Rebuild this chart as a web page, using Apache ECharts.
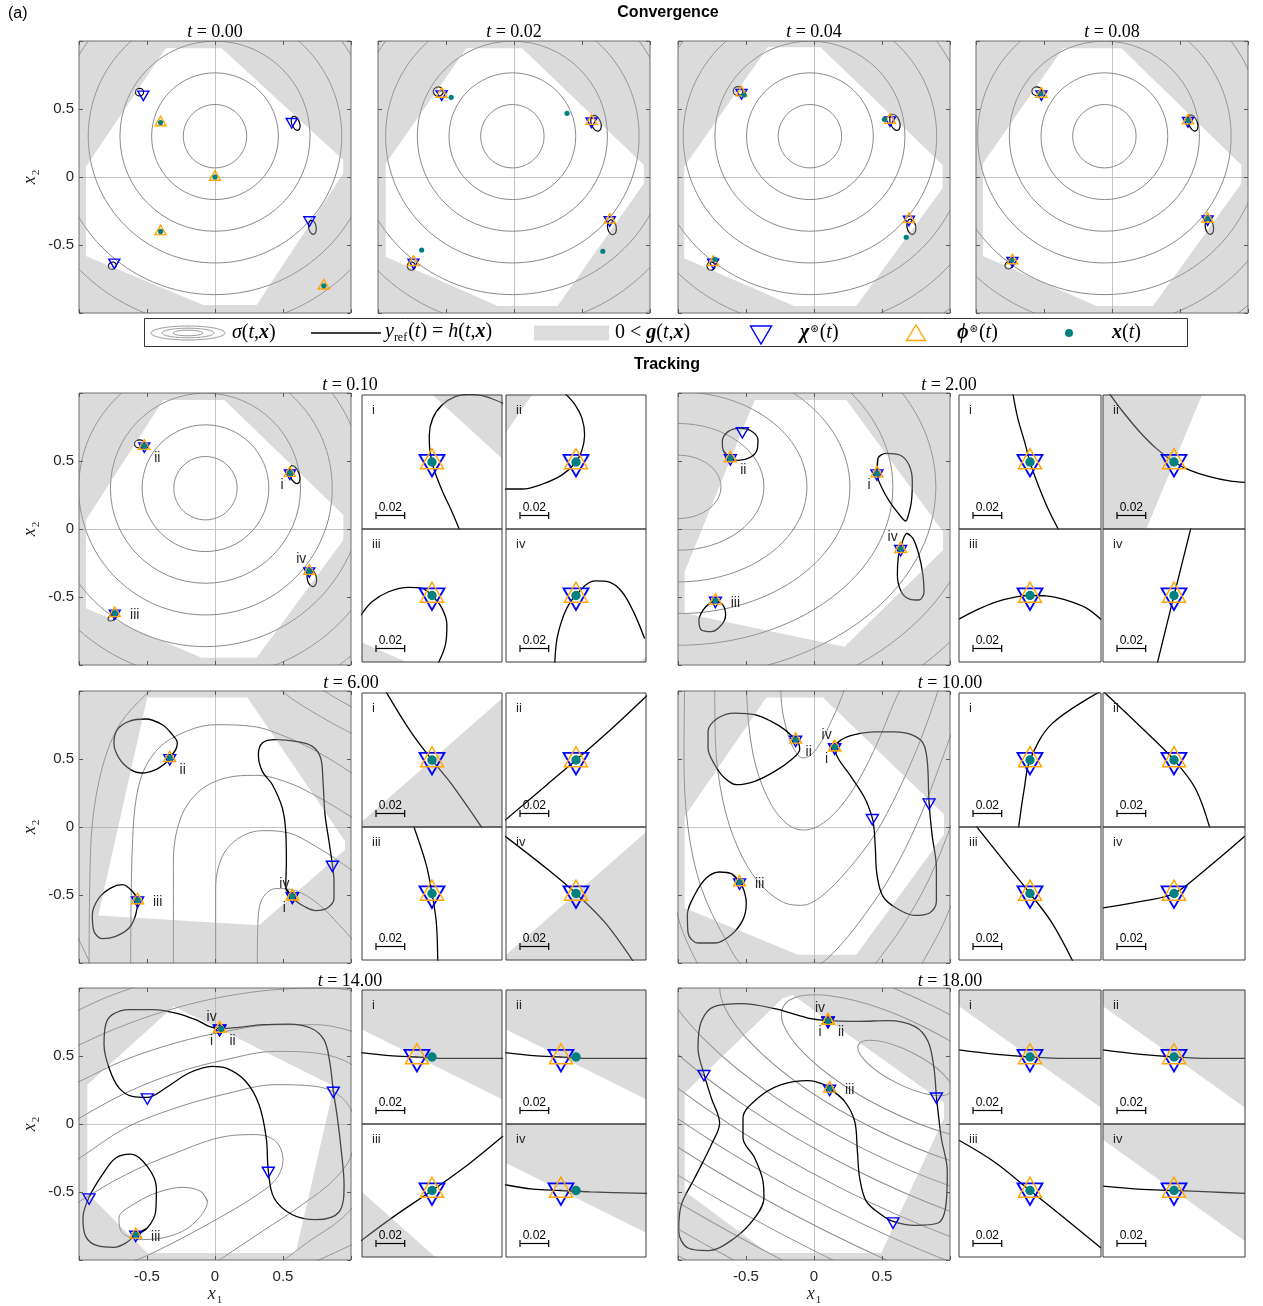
<!DOCTYPE html>
<html>
<head>
<meta charset="utf-8">
<title>Convergence and tracking</title>
<script src="https://cdn.jsdelivr.net/npm/echarts@6.0.0/dist/echarts.min.js"></script>
<style>
  html, body { margin: 0; padding: 0; background: #ffffff; }
  #chart { width: 1263px; height: 1306px; }
</style>
</head>
<body>
<div id="chart"></div>
<script>
// ======================= data =======================
const convTimes = ['0.00', '0.02', '0.04', '0.08'];
const trackTimes = ['0.10', '2.00', '6.00', '10.00', '14.00', '18.00'];
const tagNames = ['i', 'ii', 'iii', 'iv'];
const scaleBarLength = 0.02;

// sigma level circles (radii shared by the early frames)
const sigmaRadii = [0.233, 0.466, 0.699, 0.932, 1.165, 1.398, 1.631];
const sigmaCentre_t000 = [0, 0.3];
const sigmaCentre_t002 = [-0.012, 0.3];
const sigmaCentre_t004 = [-0.03, 0.3];
const sigmaCentre_t008 = [-0.056, 0.3];
const sigmaCentre_t010 = [-0.07, 0.3];
const sigmaCentre_t200 = [-1.0, 0.31];
const sigmaRx_t200 = [0.316, 0.632, 0.948, 1.264, 1.58, 1.896, 2.212, 2.528];
const sigmaRy_t200 = [0.233, 0.466, 0.699, 0.932, 1.165, 1.398, 1.631, 1.864];
const sigmaCentre_t1800 = [0.667, 0.412];
const sigmaAngle_t1800 = -26.6;
const sigmaA_t1800 = [0.38, 1.0, 1.5, 2.0, 2.5, 3.0, 3.5, 4.0, 4.5, 5.0, 5.5, 6.0, 6.5];
const sigmaB_t1800 = [0.125, 0.333, 0.5, 0.667, 0.833, 1.0, 1.167, 1.333, 1.5, 1.667, 1.833, 2.0, 2.167];

// feasible sets {g <= 0}
const feasible_t000 = [[-0.362,0.946],[0.049,0.946],[0.943,0.125],[0.943,0.027],[0.306,-0.941],[-0.086,-0.941],[-0.949,-0.581],[-0.949,0.076]];
const feasible_t002 = [[-0.349,0.946],[0.06,0.946],[0.955,0.088],[0.955,-0.047],[0.32,-0.949],[-0.12,-0.949],[-0.943,-0.586],[-0.943,0.1]];
const feasible_t004 = [[-0.34,0.954],[0.048,0.954],[0.946,0.088],[0.946,-0.083],[0.31,-0.949],[-0.146,-0.949],[-0.954,-0.598],[-0.954,0.076]];
const feasible_t008 = [[-0.36,0.946],[0.069,0.946],[0.951,0.088],[0.951,-0.047],[0.301,-0.949],[-0.115,-0.949],[-0.949,-0.581],[-0.949,0.1]];
const feasible_t010 = [[-0.38,0.949],[0.068,0.949],[0.944,0.103],[0.944,-0.081],[0.306,-0.946],[-0.098,-0.946],[-0.949,-0.583],[-0.949,0.066]];
const feasible_t200 = [[-0.436,0.949],[0.238,0.949],[0.949,-0.02],[0.949,-0.154],[0.225,-0.865],[-0.951,-0.62],[-0.951,-0.314]];
const feasible_t600 = [[-0.498,0.953],[0.238,0.953],[0.956,-0.105],[0.956,-0.167],[0.324,-0.723],[-0.858,-0.65]];
const feasible_t1000 = [[-0.35,0.953],[0.066,0.953],[0.956,0.091],[0.956,-0.056],[0.311,-0.939],[-0.118,-0.939],[-0.951,-0.596],[-0.951,0.078]];
const feasible_t1400 = [[-0.301,0.865],[0.875,0.277],[0.593,-0.949],[-0.498,-0.949],[-0.939,-0.507],[-0.939,0.289]];
const feasible_t1800 = [[-0.228,0.926],[-0.154,0.946],[0.956,0.154],[0.956,0.044],[0.495,-0.949],[-0.338,-0.949],[-0.951,-0.495],[-0.951,0.228]];

// optimisers chi, estimates phi and states x
const chi_t000 = [[-0.527,0.608],[0.564,0.407],[0.694,-0.316],[-0.74,-0.627]];
const phi_t000 = [[-0.4,0.4],[0,0],[-0.4,-0.4],[0.8,-0.8]];
const x_t000 = [[-0.4,0.4],[0,0],[-0.4,-0.4],[0.8,-0.8]];
const chi_t002 = [[-0.532,0.61],[0.57,0.41],[0.704,-0.316],[-0.739,-0.627]];
const x_t002 = [[-0.462,0.586],[0.39,0.468],[0.653,-0.546],[-0.679,-0.537]];
const chi_t004 = [[-0.533,0.62],[0.559,0.419],[0.698,-0.311],[-0.741,-0.627]];
const x_t004 = [[-0.514,0.603],[0.518,0.424],[0.678,-0.443],[-0.727,-0.605]];
const chi_t008 = [[-0.519,0.61],[0.559,0.414],[0.703,-0.309],[-0.732,-0.615]];
const x_t008 = [[-0.522,0.612],[0.559,0.416],[0.703,-0.306],[-0.736,-0.612]];
const chi_t010 = [[0.551,0.41],[-0.52,0.61],[-0.737,-0.62],[0.693,-0.309]];
const chi_t200 = [[0.463,0.409],[-0.615,0.52],[-0.725,-0.527],[0.637,-0.147]];
const chiExtra_t200 = [[-0.527,0.72]];
const chi_t600 = [[0.569,-0.51],[-0.333,0.507],[-0.569,-0.539],[0.569,-0.51]];
const chiExtra_t600 = [[0.863,-0.277]];
const chi_t1000 = [[0.152,0.586],[-0.135,0.642],[-0.547,-0.407],[0.152,0.586]];
const chiExtra_t1000 = [[0.429,0.066],[0.846,0.181]];
const chi_t1400 = [[0.034,0.701],[0.034,0.701],[-0.583,-0.814],[0.034,0.701]];
const x_t1400 = [[0.0445,0.701],[0.0445,0.701],[-0.583,-0.814],[0.0445,0.701]];
const chiExtra_t1400 = [[-0.498,0.196],[0.392,-0.343],[0.87,0.245],[-0.926,-0.539]];
const chi_t1800 = [[0.103,0.76],[0.103,0.76],[0.115,0.26],[0.103,0.76]];
const chiExtra_t1800 = [[-0.809,0.368],[0.9,0.203],[0.581,-0.716]];

// reference level sets h = y_ref : small loops (cx, cy, rx, ry, tilt deg)
const href_t000 = [[-0.555,0.624,0.03,0.028,0],[0.593,0.395,0.029,0.054,20],[0.716,-0.37,0.028,0.052,10],[-0.755,-0.652,0.03,0.026,30]];
const href_t002 = [[-0.557,0.628,0.037,0.034,0],[0.603,0.395,0.035,0.06,20],[0.72,-0.37,0.032,0.055,10],[-0.755,-0.655,0.03,0.03,30]];
const href_t004 = [[-0.558,0.632,0.036,0.033,0],[0.595,0.402,0.034,0.062,20],[0.716,-0.366,0.032,0.057,10],[-0.757,-0.655,0.03,0.03,30]];
const href_t008 = [[-0.553,0.63,0.036,0.032,0],[0.595,0.397,0.032,0.062,20],[0.716,-0.367,0.03,0.056,10],[-0.758,-0.648,0.03,0.026,30]];
const href_t010 = [[0.585,0.4,0.034,0.069,20],[-0.555,0.625,0.037,0.03,0],[-0.758,-0.652,0.032,0.02,35],[0.712,-0.362,0.034,0.062,10]];

// reference level sets : traced loops
const hrefII_t200 = [[-0.615,0.52],[-0.669,0.581],[-0.674,0.642],[-0.632,0.716],[-0.547,0.74],[-0.461,0.721],[-0.412,0.654],[-0.419,0.581],[-0.473,0.525],[-0.559,0.505]];
const hrefI_t200 = [[0.463,0.409],[0.471,0.52],[0.532,0.556],[0.63,0.544],[0.699,0.471],[0.723,0.348],[0.716,0.201],[0.691,0.091],[0.674,0.059],[0.63,0.103],[0.556,0.201],[0.495,0.311]];
const hrefIV_t200 = [[0.684,-0.032],[0.728,-0.069],[0.772,-0.191],[0.801,-0.338],[0.809,-0.461],[0.772,-0.522],[0.703,-0.515],[0.642,-0.461],[0.613,-0.338],[0.62,-0.203],[0.637,-0.147],[0.654,-0.081]];
const hrefIII_t200 = [[-0.725,-0.527],[-0.669,-0.559],[-0.65,-0.632],[-0.681,-0.706],[-0.755,-0.755],[-0.828,-0.743],[-0.846,-0.669],[-0.816,-0.596],[-0.767,-0.547]];

const hrefII_t600 = [[-0.333,0.507],[-0.289,0.569],[-0.277,0.618],[-0.314,0.679],[-0.387,0.752],[-0.51,0.794],[-0.632,0.777],[-0.718,0.716],[-0.743,0.618],[-0.706,0.507],[-0.62,0.422],[-0.534,0.397],[-0.436,0.422],[-0.363,0.471]];
const hrefIII_t600 = [[-0.569,-0.539],[-0.608,-0.473],[-0.681,-0.424],[-0.767,-0.449],[-0.853,-0.522],[-0.902,-0.645],[-0.89,-0.767],[-0.828,-0.821],[-0.73,-0.804],[-0.632,-0.743],[-0.583,-0.645]];
const hrefI_t600 = [[0.569,-0.51],[0.52,-0.449],[0.525,-0.252],[0.52,-0.032],[0.495,0.14],[0.422,0.311],[0.348,0.409],[0.319,0.532],[0.348,0.618],[0.446,0.642],[0.593,0.63],[0.716,0.593],[0.777,0.507],[0.794,0.336],[0.809,0.091],[0.838,-0.105],[0.863,-0.277],[0.875,-0.4],[0.875,-0.522],[0.826,-0.596],[0.74,-0.615],[0.654,-0.583],[0.593,-0.542]];

const hrefII_t1000 = [[-0.135,0.642],[-0.216,0.716],[-0.314,0.777],[-0.436,0.826],[-0.583,0.838],[-0.706,0.801],[-0.779,0.703],[-0.779,0.581],[-0.73,0.458],[-0.657,0.36],[-0.571,0.311],[-0.436,0.336],[-0.289,0.409],[-0.167,0.495],[-0.105,0.569],[-0.113,0.618]];
const hrefIII_t1000 = [[-0.547,-0.407],[-0.608,-0.343],[-0.694,-0.331],[-0.792,-0.375],[-0.877,-0.498],[-0.931,-0.645],[-0.926,-0.779],[-0.853,-0.853],[-0.73,-0.853],[-0.608,-0.792],[-0.522,-0.681],[-0.498,-0.559],[-0.517,-0.461]];
const hrefI_t1000 = [[0.152,0.586],[0.201,0.642],[0.299,0.679],[0.446,0.699],[0.593,0.699],[0.716,0.679],[0.801,0.618],[0.833,0.483],[0.846,0.181],[0.868,-0.056],[0.9,-0.301],[0.9,-0.547],[0.85,-0.632],[0.74,-0.65],[0.605,-0.596],[0.507,-0.51],[0.463,-0.35],[0.451,-0.154],[0.441,-0.007],[0.429,0.066],[0.373,0.213],[0.262,0.385],[0.176,0.507]];

const hrefI_t1400 = [[0.034,0.701],[-0.044,0.718],[-0.142,0.767],[-0.289,0.816],[-0.461,0.841],[-0.632,0.841],[-0.755,0.804],[-0.804,0.73],[-0.816,0.583],[-0.779,0.412],[-0.706,0.265],[-0.608,0.203],[-0.498,0.196],[-0.363,0.265],[-0.191,0.375],[-0.02,0.424],[0.078,0.412],[0.225,0.314],[0.324,0.142],[0.377,-0.103],[0.392,-0.343],[0.434,-0.544],[0.569,-0.667],[0.74,-0.703],[0.912,-0.647],[0.949,-0.446],[0.929,-0.201],[0.9,0.044],[0.87,0.245],[0.843,0.461],[0.801,0.62],[0.703,0.706],[0.544,0.735],[0.348,0.73],[0.176,0.711]];
const hrefIII_t1400 = [[-0.583,-0.814],[-0.498,-0.765],[-0.436,-0.642],[-0.431,-0.471],[-0.498,-0.311],[-0.62,-0.221],[-0.73,-0.25],[-0.828,-0.373],[-0.926,-0.539],[-0.971,-0.691],[-0.951,-0.826],[-0.865,-0.895],[-0.743,-0.907],[-0.645,-0.868]];

const href_t1800 = [[0.103,0.76],[-0.044,0.779],[-0.289,0.848],[-0.534,0.885],[-0.73,0.865],[-0.828,0.755],[-0.853,0.559],[-0.809,0.368],[-0.755,0.191],[-0.694,0.007],[-0.755,-0.152],[-0.877,-0.397],[-0.975,-0.593],[-0.995,-0.789],[-0.926,-0.912],[-0.779,-0.931],[-0.583,-0.838],[-0.436,-0.691],[-0.368,-0.544],[-0.375,-0.422],[-0.436,-0.25],[-0.522,-0.103],[-0.522,0.044],[-0.412,0.191],[-0.24,0.289],[-0.044,0.319],[0.066,0.294],[0.115,0.26],[0.225,0.167],[0.299,0.02],[0.319,-0.201],[0.336,-0.397],[0.385,-0.569],[0.495,-0.667],[0.581,-0.716],[0.74,-0.745],[0.912,-0.728],[0.973,-0.569],[0.98,-0.348],[0.936,-0.103],[0.912,0.093],[0.9,0.203],[0.882,0.412],[0.838,0.608],[0.74,0.718],[0.544,0.76],[0.324,0.755]];

// sigma level curves traced for the later frames
const sigma_t600 = [
  [[0.311,-1.012],[0.316,-0.694],[0.348,-0.527],[0.446,-0.453],[0.593,-0.468],[0.765,-0.571],[0.912,-0.718],[1.022,-0.841]],
  [[0.005,-1.012],[0.005,-0.449],[0.054,-0.216],[0.176,-0.081],[0.348,-0.027],[0.544,-0.044],[0.74,-0.142],[0.912,-0.252],[1.022,-0.331]],
  [[-0.306,-1.012],[-0.306,-0.252],[-0.252,0.066],[-0.118,0.262],[0.078,0.36],[0.299,0.38],[0.544,0.324],[0.789,0.203],[1.022,0.061]],
  [[-0.62,-1.012],[-0.608,-0.154],[-0.559,0.311],[-0.436,0.556],[-0.24,0.691],[0.005,0.752],[0.275,0.74],[0.544,0.654],[0.789,0.532],[1.022,0.385]],
  [[-0.926,-1.012],[-0.914,-0.154],[-0.853,0.336],[-0.73,0.703],[-0.559,0.924],[-0.338,1.096],[0.005,1.169],[0.348,1.096],[0.593,0.924],[0.838,0.777],[1.022,0.679]],
  [[-1.123,-0.596],[-0.995,-0.841],[-0.902,-1.037]],
  [[0.691,1.071],[0.887,0.949],[1.059,0.853]]
];
const sigma_t1000 = [
  [[-0.245,1.071],[-0.235,0.875],[-0.191,0.679],[-0.137,0.556],[-0.081,0.507],[-0.02,0.532],[0.054,0.63],[0.127,0.777],[0.201,0.949],[0.238,1.071]],
  [[-0.498,1.071],[-0.48,0.752],[-0.424,0.434],[-0.314,0.164],[-0.191,0.017],[-0.081,-0.022],[0.029,0.005],[0.176,0.127],[0.324,0.336],[0.471,0.63],[0.593,0.924],[0.667,1.071]],
  [[-0.73,1.071],[-0.725,0.63],[-0.669,0.189],[-0.559,-0.154],[-0.412,-0.4],[-0.24,-0.547],[-0.093,-0.576],[0.054,-0.51],[0.25,-0.314],[0.446,-0.056],[0.618,0.262],[0.789,0.654],[0.936,1.071]],
  [[-0.951,1.071],[-0.956,0.507],[-0.926,-0.007],[-0.828,-0.449],[-0.657,-0.816],[-0.51,-1.037],[-0.265,-1.159],[0.005,-1.037],[0.176,-0.89],[0.373,-0.645],[0.569,-0.35],[0.765,0.042],[0.936,0.483],[1.059,0.826]],
  [[-1.074,-0.35],[-0.975,-0.743],[-0.853,-1.012]],
  [[0.446,-1.012],[0.642,-0.743],[0.838,-0.4],[1.01,0.017],[1.108,0.311]],
  [[0.789,-1.012],[0.936,-0.743],[1.059,-0.449]]
];
const sigmaInner_t1400 = [[-0.056,-0.569],[-0.105,-0.495],[-0.24,-0.466],[-0.412,-0.5],[-0.583,-0.581],[-0.706,-0.691],[-0.681,-0.801],[-0.534,-0.85],[-0.338,-0.826],[-0.167,-0.74]];
const sigma_t1400 = [
  [[-1.098,-0.642],[-0.995,-0.569],[-0.657,-0.373],[-0.289,-0.213],[0.078,-0.091],[0.299,-0.078],[0.446,-0.127],[0.5,-0.262],[0.446,-0.409],[0.275,-0.544],[0.029,-0.691],[-0.24,-0.838],[-0.485,-0.961],[-0.657,-1.034]],
  [[-1.098,-0.311],[-0.995,-0.25],[-0.657,-0.029],[-0.289,0.118],[0.078,0.221],[0.446,0.289],[0.74,0.277],[0.936,0.191],[1.022,0.02],[1.01,-0.201],[0.887,-0.397],[0.642,-0.593],[0.348,-0.789],[0.054,-0.985],[-0.093,-1.083]],
  [[-1.098,-0.029],[-0.995,0.044],[-0.657,0.228],[-0.289,0.375],[0.078,0.473],[0.446,0.534],[0.74,0.522],[0.985,0.449],[1.132,0.314],[1.206,-0.103],[1.132,-0.446],[0.936,-0.691],[0.691,-0.863],[0.495,-1.01]],
  [[-1.098,0.265],[-0.995,0.314],[-0.657,0.473],[-0.289,0.596],[0.078,0.681],[0.446,0.73],[0.74,0.73],[1.01,0.681],[1.181,0.608]],
  [[-1.098,0.522],[-0.995,0.583],[-0.657,0.73],[-0.289,0.853],[0.078,0.939],[0.446,0.988],[0.814,1.0],[1.059,0.975]],
  [[-1.098,0.779],[-0.995,0.841],[-0.779,0.939],[-0.534,1.025]],
  [[0.691,-1.034],[1.01,-0.887],[1.181,-0.814]]
];

// zoomed insets : curve of h = y_ref and infeasible patches, relative to x(t)
const insetCurve_t010 = [
  [[0.0193,-0.0475],[0.0139,-0.0346],[0.0074,-0.0207],[0.0023,-0.0079],[0,0],[-0.0016,0.0095],[-0.0019,0.0188],[0.0005,0.0304],[0.007,0.0397],[0.0162,0.0455],[0.0255,0.0471],[0.0348,0.0462],[0.0441,0.0432],[0.0495,0.0408]],
  [[-0.0495,-0.0188],[-0.0376,-0.0188],[-0.0237,-0.0155],[-0.0097,-0.009],[0,0],[0.0042,0.0084],[0.006,0.0188],[0.0042,0.0304],[-0.0005,0.0397],[-0.0074,0.0475]],
  [[-0.0495,-0.0137],[-0.0418,-0.0044],[-0.0302,0.0026],[-0.0162,0.0056],[-0.007,0.0049],[0,0],[0.007,-0.009],[0.0104,-0.0206],[0.0093,-0.0346],[0.0042,-0.0475]],
  [[-0.0148,-0.0475],[-0.0132,-0.0299],[-0.0086,-0.0137],[-0.0039,-0.0044],[0,0],[0.0065,0.0072],[0.0135,0.0102],[0.0227,0.0095],[0.032,0.0026],[0.0401,-0.0114],[0.0478,-0.0299]]
];
const insetGray_t010 = [
  [[[0,0.047],[0.05,0.047],[0.05,0.0014]]],
  [[[-0.05,0.047],[-0.0306,0.047],[-0.05,0.0188]]],
  [[[-0.05,-0.0322],[-0.05,-0.047],[-0.0162,-0.047]]],
  [[[0.0437,-0.047],[0.05,-0.0416],[0.05,-0.047]]]
];
const insetCurve_t200 = [
  [[-0.0119,0.0475],[-0.0085,0.0304],[-0.0038,0.0142],[0,0],[0.0048,-0.0137],[0.0124,-0.0322],[0.0201,-0.0475]],
  [[-0.0449,0.0475],[-0.0356,0.035],[-0.024,0.0211],[-0.0124,0.0095],[0,0],[0.0108,-0.0056],[0.0247,-0.0102],[0.0386,-0.0132],[0.0495,-0.0142]],
  [[-0.0495,-0.0165],[-0.0375,-0.0102],[-0.0235,-0.0044],[-0.0096,-0.0009],[0,0],[0.0113,-0.0002],[0.0252,-0.0032],[0.0391,-0.0086],[0.0495,-0.0167]],
  [[-0.0117,-0.0475],[0,0],[0.0119,0.0475]]
];
const insetGray_t200 = [
  [],
  [[[-0.05,0.047],[0.0196,0.047],[-0.0194,-0.047],[-0.05,-0.047]]],
  [],
  []
];
const insetCurve_t600 = [
  [[-0.032,0.0475],[-0.015,0.02],[0,0],[0.013,-0.016],[0.035,-0.0475]],
  [[-0.0495,-0.042],[-0.02,-0.017],[0,0],[0.025,0.022],[0.0495,0.045]],
  [[-0.013,0.0475],[-0.004,0.02],[0,0],[0.003,-0.02],[0.004,-0.0475]],
  [[-0.0495,0.04],[-0.02,0.017],[0,0],[0.02,-0.02],[0.04,-0.0475]]
];
const insetGray_t600 = [
  [[[-0.05,-0.044],[0.05,0.044],[0.05,-0.047],[-0.05,-0.047]]],
  [],
  [],
  [[[-0.05,-0.044],[0.05,0.044],[0.05,-0.047],[-0.05,-0.047]]]
];
const insetCurve_t1000 = [
  [[-0.008,-0.0475],[-0.004,-0.02],[0,0],[0.015,0.025],[0.0495,0.048]],
  [[-0.0495,0.048],[-0.02,0.02],[0,0],[0.015,-0.02],[0.025,-0.0475]],
  [[-0.038,0.0475],[-0.016,0.02],[0,0],[0.015,-0.02],[0.03,-0.0475]],
  [[-0.0495,-0.01],[-0.02,-0.005],[0,0],[0.02,0.015],[0.0495,0.04]]
];
const insetGray_t1000 = [[], [], [], []];
const insetCurve_t1400 = [
  [[-0.0495,0.003],[-0.03,0.001],[-0.0105,0],[0.01,-0.001],[0.0495,-0.001]],
  [[-0.0495,0.003],[-0.03,0.001],[-0.0105,0],[0.01,-0.001],[0.0495,-0.001]],
  [[-0.0495,-0.035],[-0.025,-0.017],[0,0],[0.025,0.018],[0.0495,0.038]],
  [[-0.0495,0.004],[-0.03,0.001],[-0.0105,0],[0.01,-0.001],[0.0495,-0.002]]
];
const insetGray_t1400 = [
  [[[-0.05,0.047],[0.05,0.047],[0.05,-0.03],[-0.05,0.0198]]],
  [[[-0.05,0.047],[0.05,0.047],[0.05,-0.03],[-0.05,0.0198]]],
  [[[-0.05,-0.047],[-0.05,0.0],[0.003,-0.047]]],
  [[[-0.05,0.047],[0.05,0.047],[0.05,-0.03],[-0.05,0.0198]]]
];
const insetCurve_t1800 = [
  [[-0.0495,0.005],[-0.025,0.002],[0,0],[0.025,-0.001],[0.0495,-0.001]],
  [[-0.0495,0.005],[-0.025,0.002],[0,0],[0.025,-0.001],[0.0495,-0.001]],
  [[-0.0495,0.035],[-0.025,0.02],[0,0],[0.025,-0.02],[0.0495,-0.04]],
  [[-0.0495,0.003],[-0.025,0.001],[0,0],[0.025,-0.001],[0.0495,-0.002]]
];
const insetGray_t1800 = [
  [[[-0.05,0.047],[0.05,0.047],[0.05,-0.0357],[-0.05,0.0357]]],
  [[[-0.05,0.047],[0.05,0.047],[0.05,-0.0357],[-0.05,0.0357]]],
  [],
  [[[-0.05,0.047],[0.05,0.047],[0.05,-0.0357],[-0.05,0.0357]]]
];

// ======================= styling =======================
const BLUE = '#0000ff', ORANGE = '#ffa500', TEAL = '#008080';
const CONTOUR = '#8a8a8a';
const FILL = 'rgba(168,168,168,0.41)';
const SERIF = '"Liberation Serif", "DejaVu Serif", serif';
const SANS = '"Liberation Sans", Arial, sans-serif';
const insetPxPerUnit = 1435;
const tagOffset = { i: [-8, 12], ii: [13, 12], iii: [20, 2], iv: [-8, -12] };

const grids = [], xAxes = [], yAxes = [], series = [], graphics = [];

const axisNameRich = {
  v: { fontFamily: SERIF, fontStyle: 'italic', fontSize: 18, color: '#262626', verticalAlign: 'top' },
  s: { fontFamily: SERIF, fontSize: 11, color: '#262626', verticalAlign: 'top', padding: [10, 0, 0, 1] }
};

function frameAxis(dim, gi, pos, showLabels, name) {
  const isX = dim === 'x';
  const a = {
    type: 'value', gridIndex: gi, position: pos, min: -1, max: 1, interval: 0.5, z: 10,
    axisLine: { show: false, onZero: false },
    axisTick: { show: true, inside: true, length: 4, lineStyle: { color: '#5a5a5a', width: 1 } },
    splitLine: { show: false },
    axisLabel: {
      show: !!showLabels, margin: isX ? 9 : 5, fontFamily: SANS, fontSize: 15, color: '#262626',
      formatter: v => (Math.abs(v) > 0.99 ? '' : String(v))
    }
  };
  if (name) {
    a.name = name; a.nameLocation = 'middle'; a.nameGap = isX ? 25 : 37; a.nameRotate = isX ? 0 : 90;
    a.nameTextStyle = { rich: axisNameRich };
  }
  return a;
}

function crosshairSeries(ax) {
  return { ...ax, type: 'custom', z: 1, silent: true, clip: true, data: [[0, 0]],
    renderItem: (params, api) => {
      const cs = params.coordSys, o = api.coord([0, 0]);
      const ox = Math.round(o[0]) + 0.5, oy = Math.round(o[1]) + 0.5;
      return { type: 'group', children: [
        { type: 'line', shape: { x1: ox, y1: cs.y, x2: ox, y2: cs.y + cs.height }, style: { stroke: '#c4c4c4', lineWidth: 1 } },
        { type: 'line', shape: { x1: cs.x, y1: oy, x2: cs.x + cs.width, y2: oy }, style: { stroke: '#c4c4c4', lineWidth: 1 } }
      ] };
    } };
}

function ellipseSeries(ax, items, color, lw, z) {
  return { ...ax, type: 'custom', z, silent: true, clip: true, data: items,
    renderItem: (params, api) => {
      const c = api.coord([api.value(0), api.value(1)]);
      const s = api.size([api.value(2), api.value(3)]);
      return { type: 'ellipse', x: c[0], y: c[1], rotation: api.value(4) * Math.PI / 180,
        shape: { cx: 0, cy: 0, rx: s[0], ry: s[1] }, style: { fill: 'none', stroke: color, lineWidth: lw } };
    } };
}

function curveSeries(ax, pts, color, lw, closed, z) {
  const data = closed ? pts.concat([pts[0], pts[1]]) : pts;
  return { ...ax, type: 'line', data, smooth: 0.35, symbol: 'none', showSymbol: false, clip: true,
    silent: true, z, lineStyle: { color, width: lw }, emphasis: { disabled: true } };
}

function infeasibleSeries(ax, poly) {
  return { ...ax, type: 'custom', z: 3, silent: true, clip: true, data: [[0, 0]],
    renderItem: (params, api) => {
      const cs = params.coordSys;
      let pts = poly.map(p => api.coord(p));
      let area = 0;
      for (let k = 0; k < pts.length; k++) {
        const a = pts[k], b = pts[(k + 1) % pts.length];
        area += a[0] * b[1] - b[0] * a[1];
      }
      if (area > 0) pts = pts.slice().reverse();
      const x0 = cs.x, y0 = cs.y, x1 = cs.x + cs.width, y1 = cs.y + cs.height;
      let d = 'M' + x0 + ' ' + y0 + 'L' + x1 + ' ' + y0 + 'L' + x1 + ' ' + y1 + 'L' + x0 + ' ' + y1 + 'Z';
      d += 'M' + pts.map(p => p[0].toFixed(2) + ' ' + p[1].toFixed(2)).join('L') + 'Z';
      return { type: 'path', shape: { pathData: d }, style: { fill: FILL } };
    } };
}

function polygonSeries(ax, polys, z) {
  return { ...ax, type: 'custom', z, silent: true, clip: true, data: [[0, 0]],
    renderItem: (params, api) => ({ type: 'group', children: polys.map(poly => ({
      type: 'polygon', shape: { points: poly.map(p => api.coord(p)) }, style: { fill: FILL } })) }) };
}

// triangle marker with its centroid on the data point; dir 1 = apex up, -1 = apex down
function triangleSeries(ax, pts, dir, color, side, lw, z) {
  return { ...ax, type: 'custom', z, silent: true, clip: false, data: pts,
    renderItem: (params, api) => {
      const c = api.coord([api.value(0), api.value(1)]);
      const h = side * Math.sqrt(3) / 2;
      const apexY = c[1] - dir * 2 * h / 3, baseY = c[1] + dir * h / 3;
      return { type: 'polygon', shape: { points: [[c[0], apexY], [c[0] - side / 2, baseY], [c[0] + side / 2, baseY]] },
        style: { fill: 'none', stroke: color, lineWidth: lw, lineJoin: 'miter' } };
    } };
}

function dotSeries(ax, pts, r, z) {
  return { ...ax, type: 'custom', z, silent: true, clip: false, data: pts,
    renderItem: (params, api) => {
      const c = api.coord([api.value(0), api.value(1)]);
      return { type: 'circle', shape: { cx: c[0], cy: c[1], r }, style: { fill: TEAL } };
    } };
}

function tagSeries(ax, chi) {
  return { ...ax, type: 'custom', z: 7, silent: true, clip: false, data: chi,
    renderItem: (params, api) => {
      const c = api.coord([api.value(0), api.value(1)]);
      const name = tagNames[params.dataIndex];
      const o = tagOffset[name];
      return { type: 'text', x: c[0] + o[0], y: c[1] + o[1],
        style: { text: name, fill: '#262626', font: '14px ' + SANS, align: 'center', verticalAlign: 'middle',
          textAlign: 'center', textVerticalAlign: 'middle' } };
    } };
}

function insetDecorSeries(ax, tag) {
  return { ...ax, type: 'custom', z: 7, silent: true, clip: false, data: [[0, 0]],
    renderItem: (params, api) => {
      const cs = params.coordSys;
      const len = api.size([scaleBarLength, 0])[0];
      const x0 = Math.round(cs.x + 14), y0 = Math.round(cs.y + cs.height - 14) + 0.5;
      const st = { stroke: '#000', lineWidth: 1.2 };
      return { type: 'group', children: [
        { type: 'line', shape: { x1: x0, y1: y0, x2: x0 + len, y2: y0 }, style: st },
        { type: 'line', shape: { x1: x0, y1: y0 - 3.5, x2: x0, y2: y0 + 3.5 }, style: st },
        { type: 'line', shape: { x1: x0 + len, y1: y0 - 3.5, x2: x0 + len, y2: y0 + 3.5 }, style: st },
        { type: 'text', x: x0 + len / 2, y: y0 - 2,
          style: { text: scaleBarLength.toFixed(2), fill: '#000', font: '12px ' + SANS,
            align: 'center', verticalAlign: 'bottom', textAlign: 'center', textVerticalAlign: 'bottom' } },
        { type: 'text', x: cs.x + 10, y: cs.y + 15,
          style: { text: tag, fill: '#262626', font: '13px ' + SANS,
            align: 'left', verticalAlign: 'middle', textAlign: 'left', textVerticalAlign: 'middle' } }
      ] };
    } };
}

function addMainPanel(cfg) {
  const gi = grids.length;
  grids.push({ left: cfg.left, top: cfg.top, width: 272, height: 272, show: true, z: 10,
    backgroundColor: 'transparent', borderColor: '#6e6e6e', borderWidth: 1, outerBoundsMode: 'none' });
  const xi = xAxes.length, yi = yAxes.length;
  xAxes.push(frameAxis('x', gi, 'bottom', cfg.xLabels, cfg.xLabels ? '{v|x}{s|1}' : null));
  xAxes.push(frameAxis('x', gi, 'top', false, null));
  yAxes.push(frameAxis('y', gi, 'left', cfg.yLabels, cfg.yLabels ? '{v|x}{s|2}' : null));
  yAxes.push(frameAxis('y', gi, 'right', false, null));
  const ax = { xAxisIndex: xi, yAxisIndex: yi };
  series.push(crosshairSeries(ax));
  if (cfg.sigmaEllipses) series.push(ellipseSeries(ax, cfg.sigmaEllipses, CONTOUR, 1, 2));
  (cfg.sigmaLines || []).forEach(l => series.push(curveSeries(ax, l, CONTOUR, 1, false, 2)));
  (cfg.sigmaLoops || []).forEach(l => series.push(curveSeries(ax, l, CONTOUR, 1, true, 2)));
  if (cfg.hrefEllipses) series.push(ellipseSeries(ax, cfg.hrefEllipses, '#000', 1.2, 2));
  (cfg.hrefLoops || []).forEach(l => series.push(curveSeries(ax, l, '#000', 1.3, true, 2)));
  series.push(infeasibleSeries(ax, cfg.feasible));
  series.push(triangleSeries(ax, cfg.chi.concat(cfg.chiExtra || []), -1, BLUE, cfg.mk, 1.4, 5));
  series.push(triangleSeries(ax, cfg.phi, 1, ORANGE, cfg.mk, 1.4, 5));
  series.push(dotSeries(ax, cfg.xs, cfg.dot, 6));
  if (cfg.tags) series.push(tagSeries(ax, cfg.chi));
}

function addInset(left, top, w, h, k, curve, grays, starLocal) {
  const gi = grids.length;
  grids.push({ left, top, width: w, height: h, show: true, z: 10, backgroundColor: 'transparent',
    borderColor: '#3d3d3d', borderWidth: 1, outerBoundsMode: 'none' });
  const hw = w / 2 / insetPxPerUnit, hh = h / 2 / insetPxPerUnit;
  xAxes.push({ type: 'value', gridIndex: gi, min: -hw, max: hw, show: false });
  yAxes.push({ type: 'value', gridIndex: gi, min: -hh, max: hh, show: false });
  const ax = { xAxisIndex: xAxes.length - 1, yAxisIndex: yAxes.length - 1 };
  series.push(curveSeries(ax, curve, '#000', 1.3, false, 2));
  if (grays && grays.length) series.push(polygonSeries(ax, grays, 3));
  series.push(triangleSeries(ax, [starLocal], -1, BLUE, 25, 1.8, 5));
  series.push(triangleSeries(ax, [starLocal], 1, ORANGE, 23, 1.5, 5));
  series.push(dotSeries(ax, [[0, 0]], 4.7, 6));
  series.push(insetDecorSeries(ax, tagNames[k]));
}

function addInsetGroup(colLefts, w, top, chi, xs, curves, grays) {
  const tops = [top, top + 134], hs = [134, 133];
  for (let k = 0; k < 4; k++) {
    const c = k % 2, r = Math.floor(k / 2);
    const starLocal = [chi[k][0] - xs[k][0], chi[k][1] - xs[k][1]];
    addInset(colLefts[c], tops[r], w, hs[r], k, curves[k], grays[k], starLocal);
  }
}

const circles = c => sigmaRadii.map(r => [c[0], c[1], r, r, 0]);

// ---------------- convergence row ----------------
const convCfg = [
  { feasible: feasible_t000, centre: sigmaCentre_t000, href: href_t000, chi: chi_t000, phi: phi_t000, xs: x_t000 },
  { feasible: feasible_t002, centre: sigmaCentre_t002, href: href_t002, chi: chi_t002, phi: chi_t002, xs: x_t002 },
  { feasible: feasible_t004, centre: sigmaCentre_t004, href: href_t004, chi: chi_t004, phi: chi_t004, xs: x_t004 },
  { feasible: feasible_t008, centre: sigmaCentre_t008, href: href_t008, chi: chi_t008, phi: chi_t008, xs: x_t008 }
];
const convLefts = [79, 378, 678, 976];
convCfg.forEach((f, k) => {
  addMainPanel({ left: convLefts[k], top: 41, feasible: f.feasible, sigmaEllipses: circles(f.centre),
    hrefEllipses: f.href, chi: f.chi, phi: f.phi, xs: f.xs, yLabels: k === 0, mk: 11, dot: 2.6 });
});

// ---------------- tracking rows ----------------
const trackCfg = [
  { left: 79, top: 393, feasible: feasible_t010, sigmaEllipses: circles(sigmaCentre_t010), hrefEllipses: href_t010,
    chi: chi_t010, xs: chi_t010, insetC: insetCurve_t010, insetG: insetGray_t010 },
  { left: 678, top: 393, feasible: feasible_t200,
    sigmaEllipses: sigmaRx_t200.map((rx, k) => [sigmaCentre_t200[0], sigmaCentre_t200[1], rx, sigmaRy_t200[k], 0]),
    hrefLoops: [hrefII_t200, hrefI_t200, hrefIV_t200, hrefIII_t200],
    chi: chi_t200, chiExtra: chiExtra_t200, xs: chi_t200, insetC: insetCurve_t200, insetG: insetGray_t200 },
  { left: 79, top: 691, feasible: feasible_t600, sigmaLines: sigma_t600,
    hrefLoops: [hrefII_t600, hrefIII_t600, hrefI_t600],
    chi: chi_t600, chiExtra: chiExtra_t600, xs: chi_t600, insetC: insetCurve_t600, insetG: insetGray_t600 },
  { left: 678, top: 691, feasible: feasible_t1000, sigmaLines: sigma_t1000,
    hrefLoops: [hrefII_t1000, hrefIII_t1000, hrefI_t1000],
    chi: chi_t1000, chiExtra: chiExtra_t1000, xs: chi_t1000, insetC: insetCurve_t1000, insetG: insetGray_t1000 },
  { left: 79, top: 988, feasible: feasible_t1400, sigmaLines: sigma_t1400, sigmaLoops: [sigmaInner_t1400],
    hrefLoops: [hrefI_t1400, hrefIII_t1400],
    chi: chi_t1400, chiExtra: chiExtra_t1400, xs: x_t1400, insetC: insetCurve_t1400, insetG: insetGray_t1400, xLabels: true },
  { left: 678, top: 988, feasible: feasible_t1800,
    sigmaEllipses: sigmaA_t1800.map((a, k) => [sigmaCentre_t1800[0], sigmaCentre_t1800[1], a, sigmaB_t1800[k], sigmaAngle_t1800]),
    hrefLoops: [href_t1800],
    chi: chi_t1800, chiExtra: chiExtra_t1800, xs: chi_t1800, insetC: insetCurve_t1800, insetG: insetGray_t1800, xLabels: true }
];
trackCfg.forEach((f, k) => {
  const isLeft = f.left < 300;
  addMainPanel({ left: f.left, top: f.top, feasible: f.feasible, sigmaEllipses: f.sigmaEllipses, sigmaLines: f.sigmaLines,
    sigmaLoops: f.sigmaLoops, hrefEllipses: f.hrefEllipses, hrefLoops: f.hrefLoops, chi: f.chi, chiExtra: f.chiExtra,
    phi: f.chi, xs: f.xs, yLabels: isLeft, xLabels: !!f.xLabels, tags: true, mk: k === 0 ? 11 : 12, dot: 3 });
  if (isLeft) addInsetGroup([362, 506], 140, f.top + 2, f.chi, f.xs, f.insetC, f.insetG);
  else addInsetGroup([959, 1103], 142, f.top + 2, f.chi, f.xs, f.insetC, f.insetG);
});

// ---------------- titles ----------------
const titleRich = {
  i: { fontFamily: SERIF, fontStyle: 'italic', fontSize: 18, fill: '#000', color: '#000' },
  n: { fontFamily: SERIF, fontSize: 18, fill: '#000', color: '#000' }
};
function timeTitle(x, y, value) {
  graphics.push({ type: 'text', x, y, style: { text: '{i|t}{n| = ' + value + '}', rich: titleRich,
    align: 'center', verticalAlign: 'middle', textAlign: 'center', textVerticalAlign: 'middle' } });
}
convTimes.forEach((t, k) => timeTitle(convLefts[k] + 136, 32, t));
const trackTitlePos = [[350, 385], [949, 385], [351, 683], [950, 683], [350, 981], [950, 981]];
trackTimes.forEach((t, k) => timeTitle(trackTitlePos[k][0], trackTitlePos[k][1], t));

graphics.push({ type: 'text', x: 8, y: 14, style: { text: '(a)', font: '16px ' + SANS, fill: '#000',
  align: 'left', verticalAlign: 'middle', textAlign: 'left', textVerticalAlign: 'middle' } });
graphics.push({ type: 'text', x: 668, y: 13, style: { text: 'Convergence', font: 'bold 16px ' + SANS, fill: '#000',
  align: 'center', verticalAlign: 'middle', textAlign: 'center', textVerticalAlign: 'middle' } });
graphics.push({ type: 'text', x: 667, y: 365, style: { text: 'Tracking', font: 'bold 16px ' + SANS, fill: '#000',
  align: 'center', verticalAlign: 'middle', textAlign: 'center', textVerticalAlign: 'middle' } });

// ---------------- legend ----------------
const lr = {
  n: { fontFamily: SERIF, fontSize: 20, fill: '#000', color: '#000', verticalAlign: 'top' },
  i: { fontFamily: SERIF, fontSize: 20, fontStyle: 'italic', fill: '#000', color: '#000', verticalAlign: 'top' },
  b: { fontFamily: SERIF, fontSize: 20, fontStyle: 'italic', fontWeight: 'bold', fill: '#000', color: '#000', verticalAlign: 'top' },
  sub: { fontFamily: SERIF, fontSize: 12, fill: '#000', color: '#000', verticalAlign: 'top', padding: [10, 1, 0, 0] },
  sup: { fontFamily: '"DejaVu Sans", sans-serif', fontSize: 10, fill: '#000', color: '#000', verticalAlign: 'top', padding: [1, 1, 0, 1] }
};
function legendText(x, text) {
  graphics.push({ type: 'text', x, y: 333, style: { text, rich: lr, align: 'left', verticalAlign: 'middle',
    textAlign: 'left', textVerticalAlign: 'middle' } });
}
graphics.push({ type: 'rect', shape: { x: 144.5, y: 318.5, width: 1043, height: 28 }, style: { fill: '#fff', stroke: '#333', lineWidth: 1 } });
[[37, 7], [26, 4.8], [15, 2.8]].forEach(r => graphics.push({ type: 'ellipse',
  shape: { cx: 188, cy: 333, rx: r[0], ry: r[1] }, style: { fill: 'none', stroke: '#999', lineWidth: 1 } }));
legendText(232, '{i|σ}{n|(}{i|t}{n|,}{b|x}{n|)}');
graphics.push({ type: 'line', shape: { x1: 311, y1: 333, x2: 381, y2: 333 }, style: { stroke: '#000', lineWidth: 1.3 } });
legendText(385, '{i|y}{sub|ref}{n|(}{i|t}{n|) = }{i|h}{n|(}{i|t}{n|,}{b|x}{n|)}');
graphics.push({ type: 'rect', shape: { x: 534, y: 325.5, width: 75, height: 15 }, style: { fill: '#dcdcdc' } });
legendText(615, '{n|0 < }{b|g}{n|(}{i|t}{n|,}{b|x}{n|)}');
graphics.push({ type: 'polygon', shape: { points: [[750.5, 326], [771.5, 326], [761, 344]] }, style: { fill: 'none', stroke: BLUE, lineWidth: 1.4 } });
legendText(800, '{b|χ}{sup|⊛}{n|(}{i|t}{n|)}');
graphics.push({ type: 'polygon', shape: { points: [[916, 325], [906.5, 340.5], [925.5, 340.5]] }, style: { fill: 'none', stroke: ORANGE, lineWidth: 1.4 } });
legendText(957, '{b|ϕ}{sup|⊛}{n|(}{i|t}{n|)}');
graphics.push({ type: 'circle', shape: { cx: 1069, cy: 333, r: 4 }, style: { fill: TEAL } });
legendText(1112, '{b|x}{n|(}{i|t}{n|)}');

// ======================= render =======================
const chart = echarts.init(document.getElementById('chart'), null, { renderer: 'canvas' });
chart.setOption({
  animation: false,
  backgroundColor: '#ffffff',
  grid: grids,
  xAxis: xAxes,
  yAxis: yAxes,
  series: series,
  graphic: { elements: graphics }
});
</script>
</body>
</html>
